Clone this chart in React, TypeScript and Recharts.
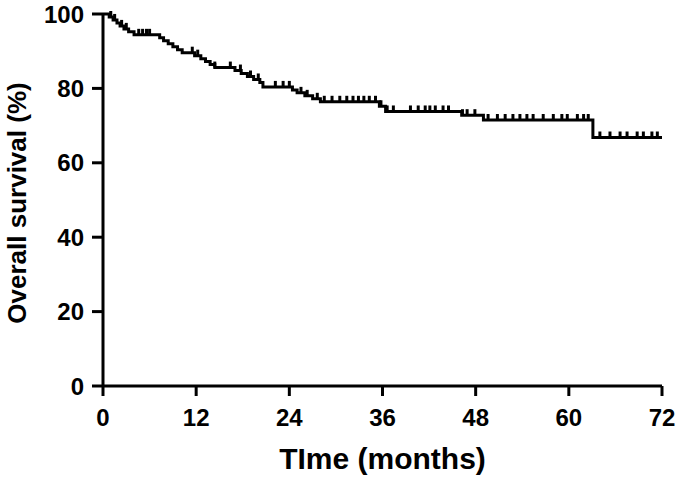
import React from 'react'
import { ComposedChart, Line, Scatter, XAxis, YAxis } from 'recharts'

// Kaplan-Meier step points (time in months, survival %)
const stepTimes = [0, 0.8, 1.3, 1.8, 2.2, 2.7, 3.3, 4.0, 7.3, 7.8, 8.4, 9.0, 9.6, 10.2, 11.8, 12.6, 13.2, 13.8, 14.4, 17.0, 17.8, 18.6, 19.4, 20.2, 20.6, 24.4, 25.0, 26.0, 27.0, 28.0, 35.6, 36.4, 46.2, 49.0, 63.1, 72]
const stepSurvival = [100, 99.2, 98.4, 97.6, 96.8, 96.0, 95.2, 94.4, 93.6, 92.8, 92.0, 91.2, 90.4, 89.6, 88.8, 88.0, 87.2, 86.4, 85.6, 84.8, 84.0, 83.2, 82.4, 81.6, 80.4, 79.6, 78.8, 78.0, 77.2, 76.4, 75.2, 73.8, 72.8, 71.5, 66.8, 66.8]

// censored observations (months)
const censorTimes = [1.0, 1.5, 2.4, 3.0, 4.6, 5.1, 5.6, 6.0, 11.5, 12.2, 14.4, 16.4, 17.7, 19.0, 20.0, 22.2, 23.2, 24.0, 25.5, 26.3, 27.6, 28.5, 29.5, 30.5, 31.4, 32.2, 32.9, 33.6, 34.3, 35.1, 35.8, 36.6, 37.4, 39.6, 40.6, 41.5, 42.1, 42.8, 43.8, 44.5, 46.3, 46.9, 47.9, 49.6, 50.8, 51.8, 52.8, 53.7, 54.6, 55.4, 56.7, 58.0, 59.1, 59.8, 61.1, 61.9, 62.5, 64.0, 65.3, 66.6, 67.5, 68.8, 69.6, 70.7, 71.4]

const xTicks = [0, 12, 24, 36, 48, 60, 72]
const yTicks = [0, 20, 40, 60, 80, 100]

const curve = stepTimes.map((t, i) => ({ t, s: stepSurvival[i] }))

function survivalAt(t: number): number {
  let s = stepSurvival[0]
  for (let i = 0; i < stepTimes.length; i++) {
    if (stepTimes[i] <= t) s = stepSurvival[i]
  }
  return s
}

const censored = censorTimes.map((t) => ({ t, s: survivalAt(t) }))

const font = "'Liberation Sans', Arial, Helvetica, sans-serif"
const tickStyle = { fill: '#000', fontSize: 24, fontWeight: 700, fontFamily: font }

const CensorMark = (props: any) => {
  const { cx, cy } = props
  return <line x1={cx} y1={cy} x2={cx} y2={cy - 6} stroke="#000" strokeWidth={3} />
}

export default function App() {
  return (
    <div style={{ position: 'absolute', left: 0, top: 0, background: '#fff' }}>
      <ComposedChart width={679} height={478} margin={{ top: 14, right: 17, bottom: 0, left: 0 }}>
        <XAxis
          dataKey="t"
          type="number"
          domain={[0, 72]}
          ticks={xTicks}
          allowDataOverflow
          axisLine={{ stroke: '#000', strokeWidth: 3 }}
          tickLine={{ stroke: '#000', strokeWidth: 3 }}
          tickSize={10}
          tickMargin={13}
          tick={tickStyle}
          height={92}
          label={{
            value: 'TIme (months)',
            position: 'insideBottom',
            offset: 9,
            style: { fill: '#000', fontSize: 30, fontWeight: 700, fontFamily: font },
          }}
        />
        <YAxis
          dataKey="s"
          type="number"
          domain={[0, 100]}
          ticks={yTicks}
          axisLine={{ stroke: '#000', strokeWidth: 3 }}
          tickLine={{ stroke: '#000', strokeWidth: 3 }}
          tickSize={11}
          tickMargin={8}
          tick={tickStyle}
          width={103}
          label={{
            value: 'Overall survival (%)',
            content: ({ viewBox }: any) => {
              const x = viewBox.x + 17
              const y = viewBox.y + viewBox.height / 2 + 3
              return (
                <text
                  x={x}
                  y={y}
                  transform={`rotate(-90 ${x} ${y})`}
                  textAnchor="middle"
                  dominantBaseline="central"
                  style={{ fill: '#000', fontSize: 26, fontWeight: 700, fontFamily: font }}
                >
                  Overall survival (%)
                </text>
              )
            },
          }}
        />
        <Line
          data={curve}
          dataKey="s"
          type="stepAfter"
          stroke="#000"
          strokeWidth={3}
          dot={false}
          activeDot={false}
          isAnimationActive={false}
        />
        <Scatter data={censored} dataKey="s" shape={CensorMark} isAnimationActive={false} />
      </ComposedChart>
    </div>
  )
}
